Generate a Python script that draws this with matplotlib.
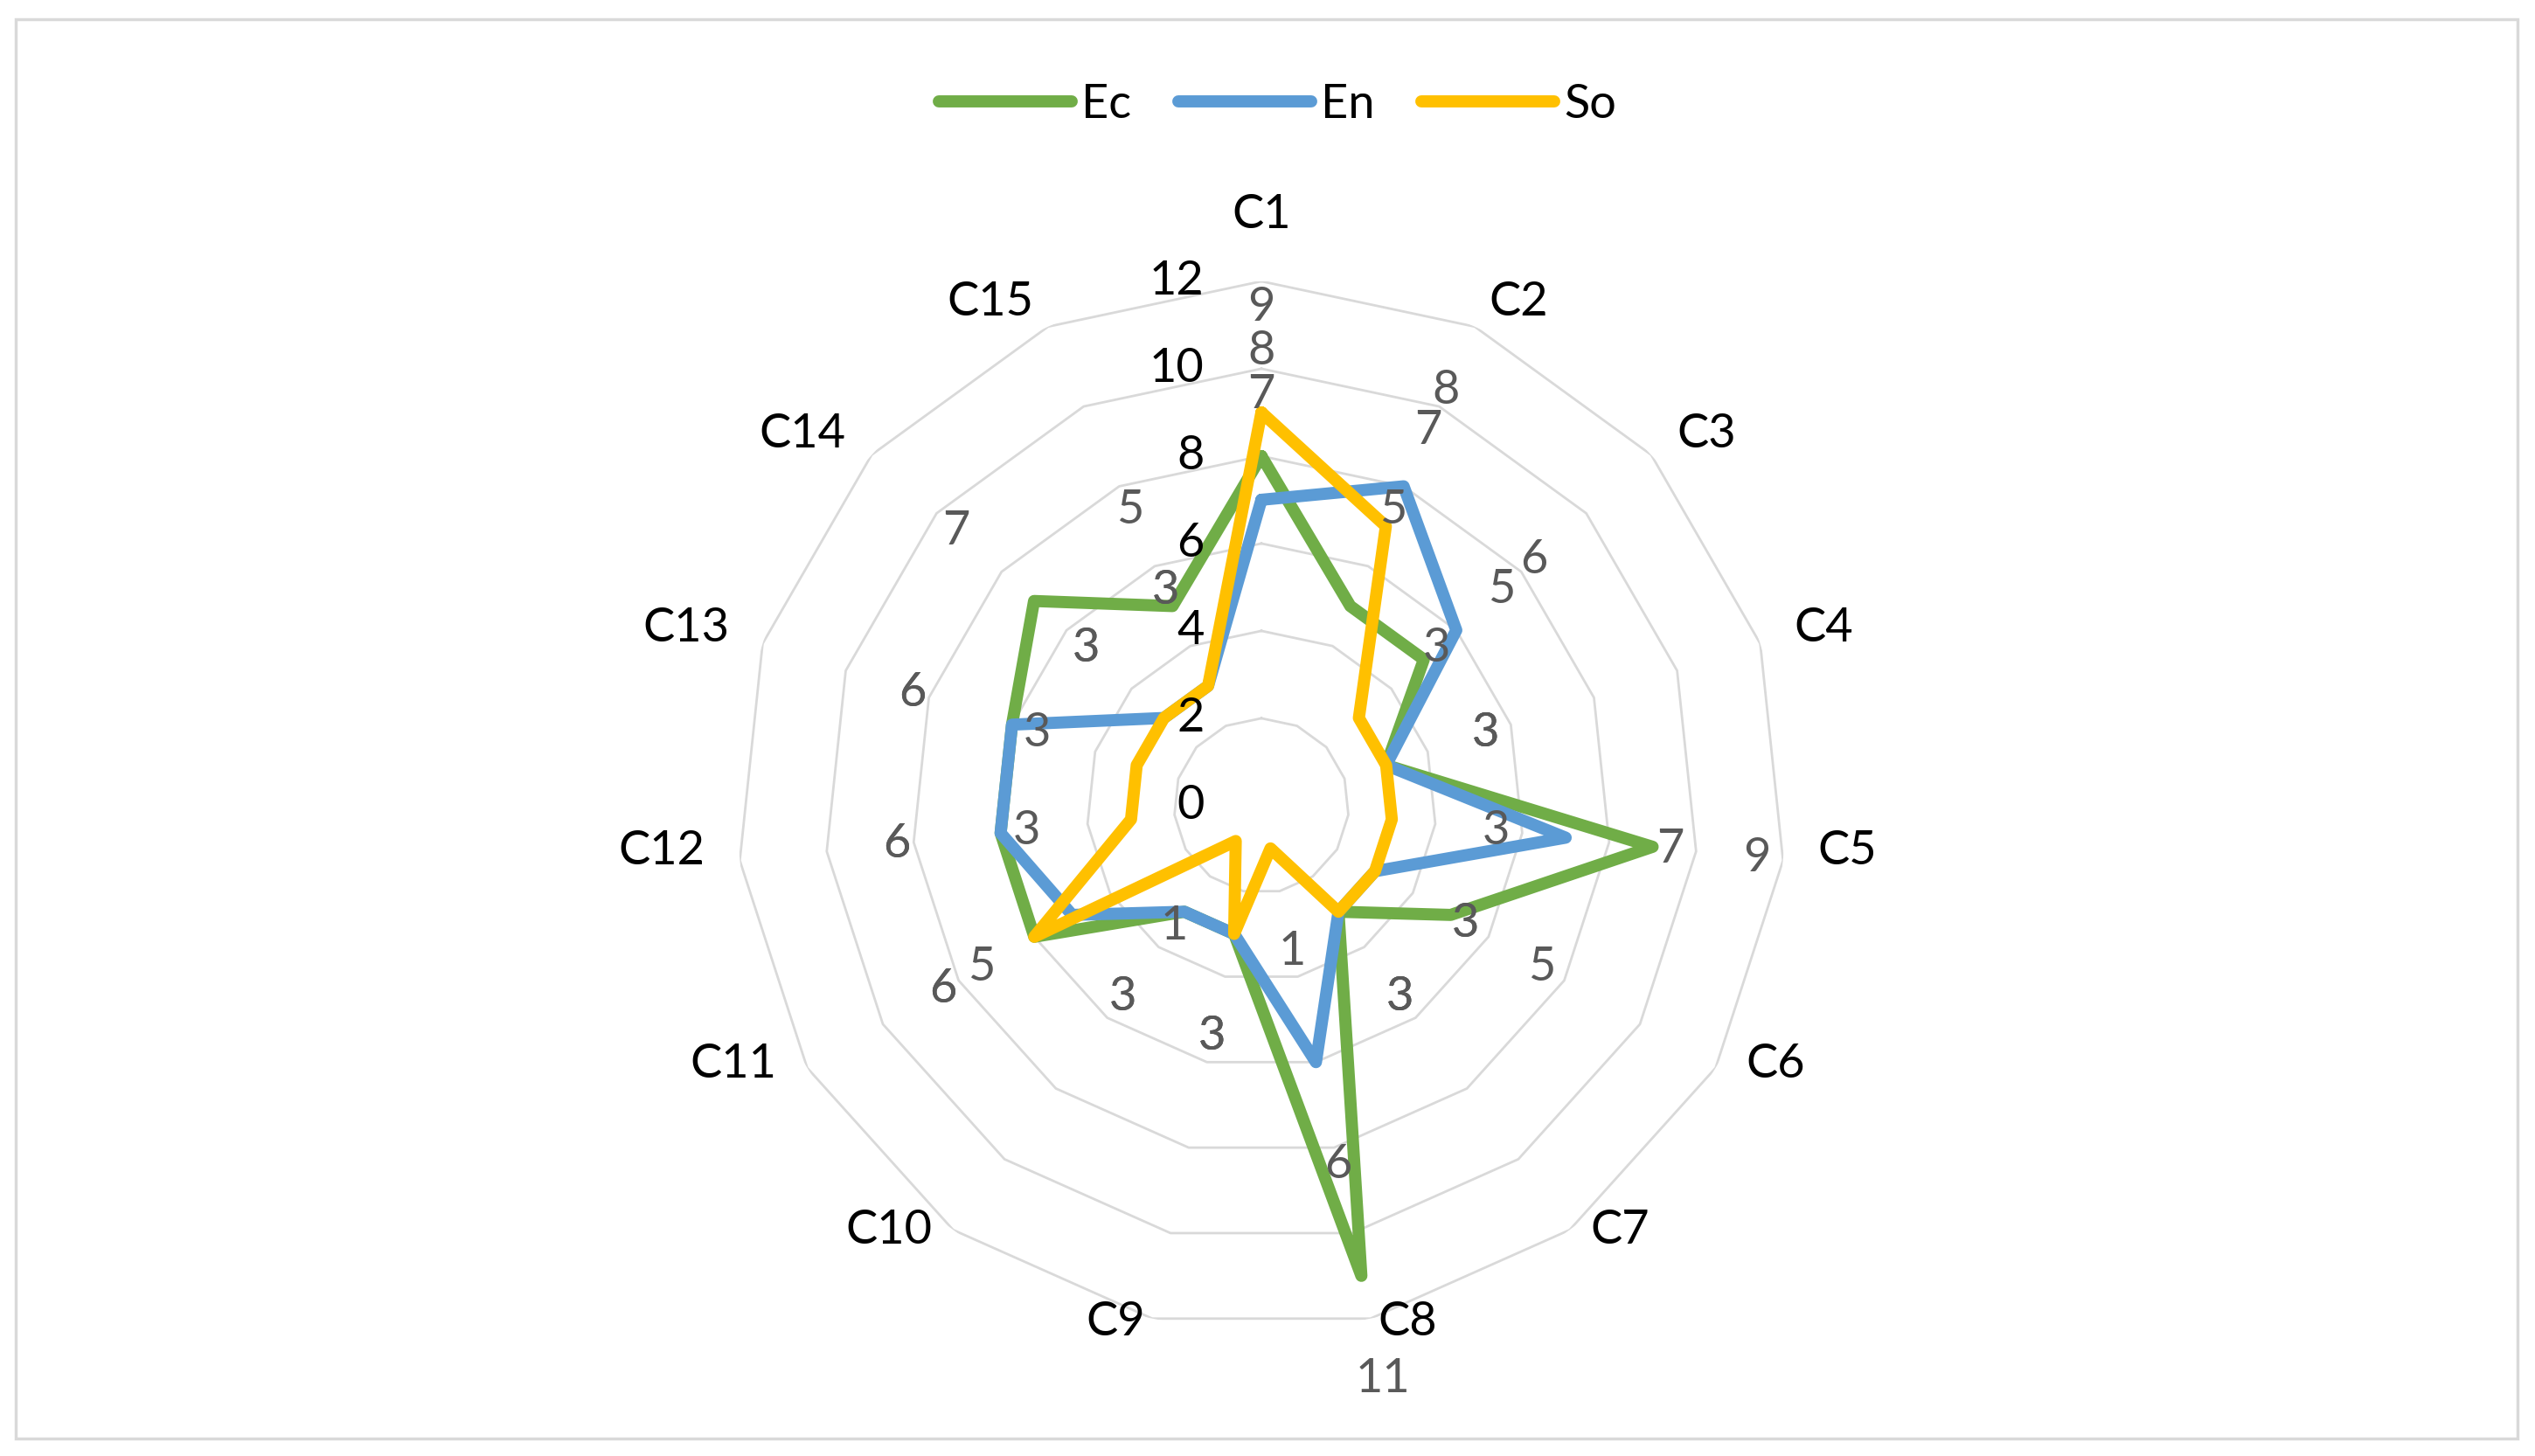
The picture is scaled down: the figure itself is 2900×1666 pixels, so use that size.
import numpy as np
import matplotlib.pyplot as plt
from matplotlib.patches import Rectangle

# dados do gráfico radar
categories = ['C1', 'C2', 'C3', 'C4', 'C5', 'C6', 'C7', 'C8',
              'C9', 'C10', 'C11', 'C12', 'C13', 'C14', 'C15']
ec = [8, 5, 5, 3, 9, 5, 3, 11, 3, 3, 6, 6, 6, 7, 5]
en = [7, 8, 6, 3, 7, 3, 3, 6, 3, 3, 5, 6, 6, 3, 3]
so = [9, 7, 3, 3, 3, 3, 3, 1, 3, 1, 6, 3, 3, 3, 3]
series_names = ['Ec', 'En', 'So']
ring_ticks = [0, 2, 4, 6, 8, 10, 12]

colors = ['#70AD47', '#5B9BD5', '#FFC000']
grid_color = '#d9d9d9'
label_gray = '#595959'
fs = 39

plt.rcParams['font.family'] = ['Lato', 'DejaVu Sans']

fig = plt.figure(figsize=(29, 16.66), dpi=100)
fig.patches.append(Rectangle((0.0062, 0.012), 0.9869, 0.9748, transform=fig.transFigure,
                             fill=False, edgecolor=grid_color, lw=2.5))

ax = fig.add_axes([0.2907, 0.0865, 0.4138, 0.7203], projection='polar')
ax.set_theta_zero_location('N')
ax.set_theta_direction(-1)
ax.set_ylim(0, 12)
ax.grid(False)
ax.spines['polar'].set_visible(False)
ax.set_xticks([])
ax.set_yticks([])

n = len(categories)
theta = np.arange(n) * 2 * np.pi / n
closed = np.append(theta, theta[0])

# anéis poligonais
for v in ring_ticks[1:]:
    ax.plot(closed, np.full(n + 1, v), color=grid_color, lw=2, zorder=1)

# séries
for name, vals, col in zip(series_names, [ec, en, so], colors):
    ax.plot(closed, np.append(vals, vals[0]), color=col, lw=10, label=name,
            solid_joinstyle='round', solid_capstyle='round', zorder=3, clip_on=False)

# rótulos de dados (deslocados para fora do ponto)
for vals in [ec, en, so]:
    for t, v in zip(theta, vals):
        ax.text(t, v + 2.4, str(v), ha='center', va='center', fontsize=fs,
                color=label_gray, zorder=5)

# valores do eixo
for v in ring_ticks:
    ax.annotate(str(v), xy=(0, v), xytext=(-47, 0), textcoords='offset points',
                ha='right', va='center', fontsize=fs, color='black')

# categorias
for t, lab in zip(theta, categories):
    s, c = np.sin(t), np.cos(t)
    if abs(s) < 0.05:
        ha, va, off = 'center', 'bottom', (0, 37)
    else:
        ha = 'left' if s > 0 else 'right'
        va = 'center'
        off = (29 * s, 9.3 + 12 * c)
    ax.annotate(lab, xy=(t, 12), xytext=off, textcoords='offset points',
                ha=ha, va=va, fontsize=fs, color='black', annotation_clip=False)

fig.legend(loc='center', bbox_to_anchor=(0.504, 0.928), ncol=3, frameon=False,
           fontsize=fs, handlelength=2.8, handletextpad=0.2, columnspacing=1.0)

fig.savefig('out.png', dpi=100)
